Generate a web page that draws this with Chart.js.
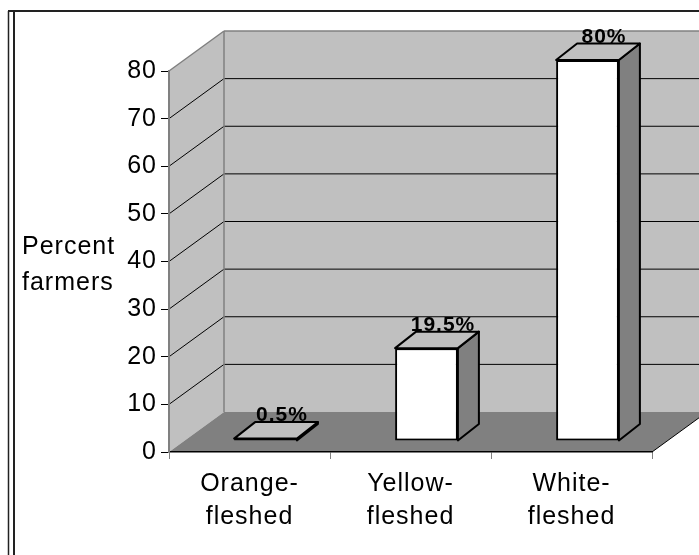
<!DOCTYPE html>
<html>
<head>
<meta charset="utf-8">
<script src="https://cdn.jsdelivr.net/npm/chart.js@4/dist/chart.umd.min.js"></script>
<style>
  html, body { margin: 0; padding: 0; background: #fff; }
  #wrap { width: 699px; height: 555px; position: relative; }
  canvas { display: block; }
</style>
</head>
<body>
<div id="wrap"><canvas id="chart" width="699" height="555"></canvas></div>
<script>
// Flesh colour groups and the share of farmers growing each
const categories = [['Orange-', 'fleshed'], ['Yellow-', 'fleshed'], ['White-', 'fleshed']];
const percentFarmers = [0.5, 19.5, 80];
const valueLabels = ['0.5%', '19.5%', '80%'];
const yTicks = [0, 10, 20, 30, 40, 50, 60, 70, 80];
const axisTitle = ['Percent', 'farmers'];

// Oblique projection used for the 3-D box look
const WALL_DEPTH = { dx: 55, dy: -40 };   // front plane -> back wall
const BAR_SHIFT  = { dx: 16, dy: -11 };   // front plane -> bar front faces
const BAR_DEPTH  = { dx: 21, dy: -16.5 }; // bar front face -> bar back face

const FONT = '"Liberation Sans", Arial, sans-serif';
const WALL = '#c0c0c0';
const FLOOR = '#808080';
const EDGE = '#808080';

function poly(ctx, pts, fill, stroke, lw) {
  ctx.beginPath();
  ctx.moveTo(pts[0][0], pts[0][1]);
  for (let i = 1; i < pts.length; i++) ctx.lineTo(pts[i][0], pts[i][1]);
  ctx.closePath();
  if (fill) { ctx.fillStyle = fill; ctx.fill(); }
  if (stroke) { ctx.strokeStyle = stroke; ctx.lineWidth = lw || 1; ctx.stroke(); }
}
function line(ctx, x0, y0, x1, y1, color, lw) {
  ctx.beginPath();
  ctx.moveTo(x0, y0);
  ctx.lineTo(x1, y1);
  ctx.strokeStyle = color;
  ctx.lineWidth = lw;
  ctx.stroke();
}

const boxPlugin = {
  id: 'box3d',
  beforeDraw(chart) {
    const ctx = chart.ctx;
    ctx.letterSpacing = '1px';
    const { left, right } = chart.chartArea;
    const y = chart.scales.y;
    const { dx, dy } = WALL_DEPTH;
    const yTop = y.getPixelForValue(yTicks[yTicks.length - 1]);
    const y0 = y.getPixelForValue(yTicks[0]);

    ctx.save();
    ctx.fillStyle = '#fff';
    ctx.fillRect(0, 0, chart.width, chart.height);

    // back wall
    poly(ctx, [[left + dx, yTop + dy], [right + dx, yTop + dy], [right + dx, y0 + dy], [left + dx, y0 + dy]], WALL);
    // side wall
    poly(ctx, [[left, yTop], [left + dx, yTop + dy], [left + dx, y0 + dy], [left, y0]], WALL);
    // floor
    poly(ctx, [[left, y0], [left + dx, y0 + dy], [right + dx, y0 + dy], [right, y0]], FLOOR);

    // gridlines across side wall and back wall
    yTicks.forEach(v => {
      if (v === yTicks[0] || v === yTicks[yTicks.length - 1]) return;
      const py = y.getPixelForValue(v);
      line(ctx, left, py, left + dx, py + dy, '#000', 1);
      line(ctx, left + dx, py + dy, right + dx, py + dy, '#000', 1);
    });

    // wall edges
    line(ctx, left, yTop, left + dx, yTop + dy, EDGE, 1.5);
    line(ctx, left + dx, yTop + dy, right + dx, yTop + dy, EDGE, 1.5);
    line(ctx, left + dx, yTop + dy, left + dx, y0 + dy, EDGE, 1.5);
    line(ctx, right, y0, right + dx, y0 + dy, '#000', 1);
    ctx.restore();
  },
  beforeDatasetsDraw(chart) {
    chart.ctx.save();
    chart.ctx.translate(BAR_SHIFT.dx, BAR_SHIFT.dy);
  },
  afterDatasetsDraw(chart) {
    const ctx = chart.ctx;
    const meta = chart.getDatasetMeta(0);
    const { dx, dy } = BAR_DEPTH;
    ctx.lineJoin = 'round';
    meta.data.forEach((bar, i) => {
      const { x, y, base, width } = bar.getProps(['x', 'y', 'base', 'width'], true);
      const x0 = x - width / 2, x1 = x + width / 2;
      // right side face
      poly(ctx, [[x1, y], [x1 + dx, y + dy], [x1 + dx, base + dy], [x1, base]], '#808080', '#000', 2);
      // top face
      poly(ctx, [[x0, y], [x0 + dx, y + dy], [x1 + dx, y + dy], [x1, y]], '#c0c0c0', '#000', 2);
      // value label above the bar
      ctx.font = 'bold 21px ' + FONT;
      ctx.fillStyle = '#000';
      ctx.textAlign = 'center';
      ctx.textBaseline = 'alphabetic';
      ctx.letterSpacing = '1px';
      ctx.fillText(valueLabels[i], x + dx / 2 + 6, y + dy - 1);
    });
    ctx.restore();
  },
  afterDraw(chart) {
    const ctx = chart.ctx;
    ctx.save();
    // axis title, horizontal, two lines
    ctx.font = '25px ' + FONT;
    ctx.letterSpacing = '1px';
    ctx.fillStyle = '#000';
    ctx.textAlign = 'left';
    ctx.textBaseline = 'alphabetic';
    ctx.fillText(axisTitle[0], 22, 254);
    ctx.fillText(axisTitle[1], 22, 290);

    // outer frame
    line(ctx, 8, 11, chart.width, 11, '#222', 2);
    line(ctx, 8.5, 11, 8.5, chart.height, '#222', 1.5);
    line(ctx, 14, 11, 14, chart.height, '#222', 2);
    ctx.restore();
  }
};

new Chart(document.getElementById('chart'), {
  type: 'bar',
  data: {
    labels: categories,
    datasets: [{
      data: percentFarmers,
      backgroundColor: '#ffffff',
      borderColor: '#000000',
      borderWidth: 2,
      borderSkipped: false,
      categoryPercentage: 1,
      barPercentage: 0.39,
      clip: false
    }]
  },
  options: {
    responsive: false,
    devicePixelRatio: 1,
    animation: false,
    layout: { padding: { top: 71, right: 47, left: 0, bottom: 0 } },
    plugins: { legend: { display: false }, tooltip: { enabled: false } },
    scales: {
      x: {
        type: 'category',
        offset: true,
        grid: { offset: true, drawOnChartArea: false, drawTicks: true, tickLength: 7, color: '#808080', lineWidth: 1 },
        border: { display: true, color: '#000', width: 1.5 },
        ticks: { color: '#000', font: { family: FONT, size: 25, lineHeight: 1.3 }, padding: 9, maxRotation: 0, autoSkip: false },
        afterFit(s) { s.height = 103; }
      },
      y: {
        min: yTicks[0],
        max: yTicks[yTicks.length - 1],
        afterBuildTicks(s) { s.ticks = yTicks.map(v => ({ value: v })); },
        grid: { drawOnChartArea: false, drawTicks: true, tickLength: 8, color: '#000', lineWidth: 1 },
        border: { display: true, color: '#808080', width: 2 },
        ticks: { color: '#000', font: { family: FONT, size: 25 }, padding: 4 },
        afterFit(s) { s.width = 169; }
      }
    }
  },
  plugins: [boxPlugin]
});
</script>
</body>
</html>
